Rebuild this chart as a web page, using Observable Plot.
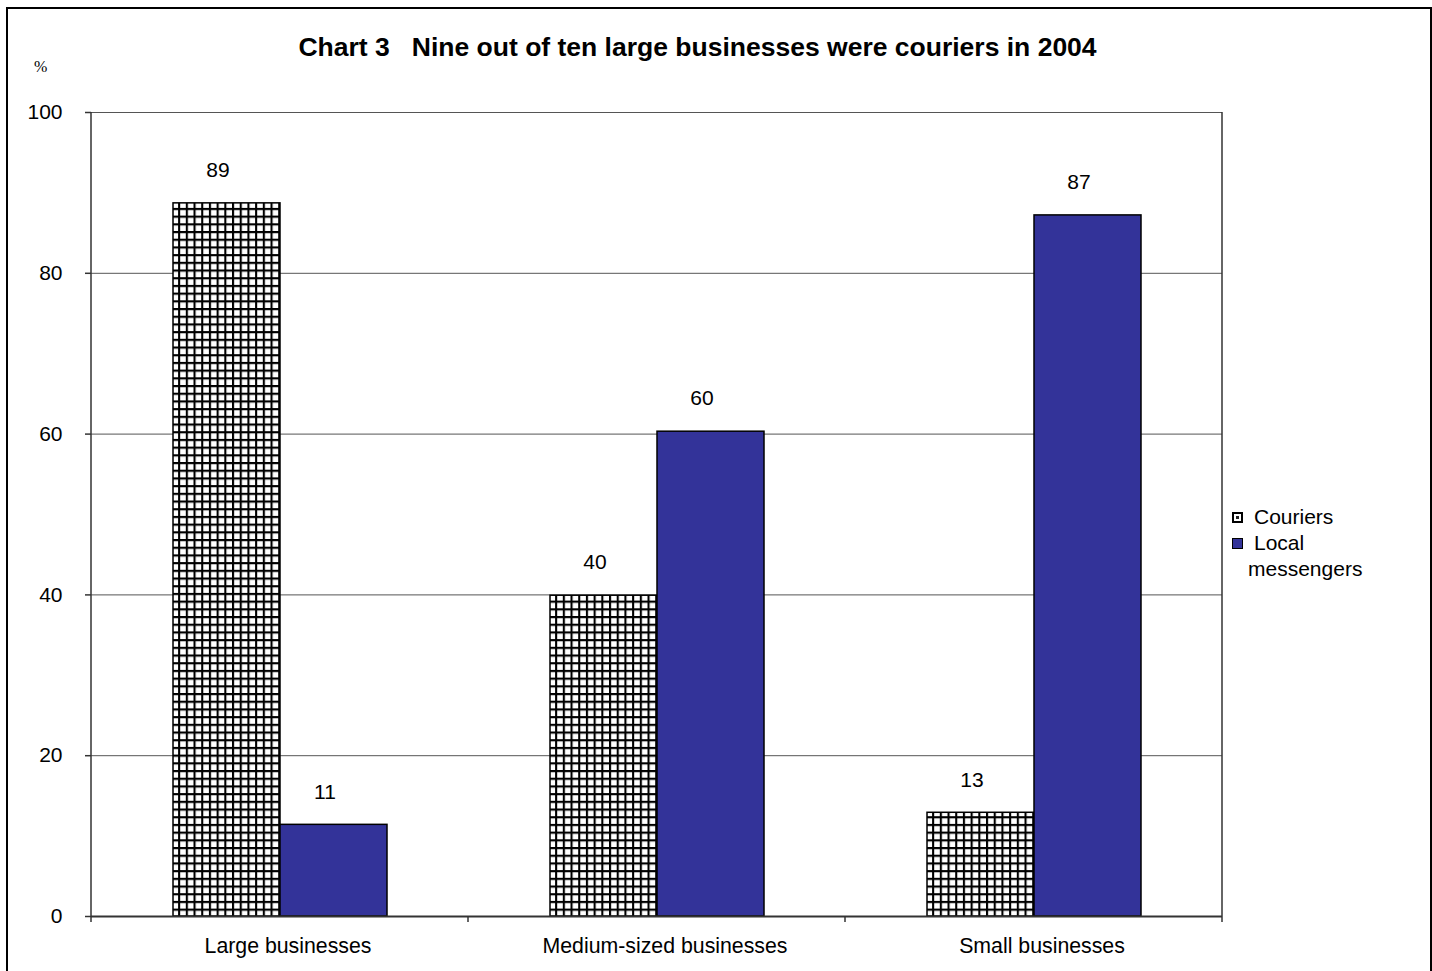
<!DOCTYPE html>
<html>
<head>
<meta charset="utf-8">
<script src="https://cdn.jsdelivr.net/npm/d3@7"></script>
<script src="https://cdn.jsdelivr.net/npm/@observablehq/plot@0.6"></script>
<style>
  html, body { margin: 0; padding: 0; background: #fff; }
  body { width: 1432px; height: 971px; position: relative; overflow: hidden; font-family: "Liberation Sans", Arial, sans-serif; }
  #border { position: absolute; left: 6px; top: 7px; width: 1422px; height: 980px; border: 2px solid #000; border-bottom: none; }
  #title { position: absolute; left: 0; width: 1395px; top: 32px; text-align: center; font-weight: bold; font-size: 26.5px; white-space: pre; }
  #unit { position: absolute; left: 34px; top: 58px; font-family: "Liberation Serif", "Times New Roman", serif; font-size: 16px; }
  #legend { position: absolute; left: 1232px; top: 504px; font-size: 21px; line-height: 26px; }
  .item { display: flex; align-items: flex-start; }
  .item svg { flex: none; margin-top: 8px; margin-right: 5px; }
  .item span { display: inline-block; width: 125px; text-indent: 6px; }
  #chart { position: absolute; left: 0; top: 0; }
</style>
</head>
<body>
<div id="border"></div>
<div id="chart"></div>
<div id="title">Chart 3   Nine out of ten large businesses were couriers in 2004</div>
<div id="unit">%</div>
<div id="legend"></div>
<script>
// ---- data ----
const categories = ["Large businesses", "Medium-sized businesses", "Small businesses"];
const seriesNames = ["Couriers", "Local messengers"];
const couriers = [88.7, 39.9, 12.9];
const localMessengers = [11.4, 60.3, 87.2];
const couriersLabels = ["89", "40", "13"];
const localLabels = ["11", "60", "87"];
const yTicks = [0, 20, 40, 60, 80, 100];
const yGrid = [20, 40, 60, 80, 100];

const data = [];
categories.forEach((c, i) => {
  data.push({category: c, series: seriesNames[0], value: couriers[i], label: couriersLabels[i]});
  data.push({category: c, series: seriesNames[1], value: localMessengers[i], label: localLabels[i]});
});

// outer plot-area sides and category boundary ticks, drawn once across all facets
const frameMark = Plot.frame({
  facet: "super",
  render(index, scales, values, dims) {
    const {marginLeft, marginRight, marginTop, marginBottom, width, height} = dims;
    const y = scales.y;
    const y0 = y ? y(0) : height - marginBottom;
    const y100 = y ? y(100) : marginTop;
    const fx = scales.fx;
    let xs;
    if (fx && fx.bandwidth) {
      xs = categories.map(c => fx(c));
      xs.push(xs[xs.length - 1] + fx.bandwidth());
    } else {
      const w = (width - marginLeft - marginRight) / categories.length;
      xs = d3.range(categories.length + 1).map(i => marginLeft + i * w);
    }
    const g = d3.create("svg:g");
    g.selectAll("line.tick").data(xs).join("line")
      .attr("x1", d => d).attr("x2", d => d)
      .attr("y1", y0).attr("y2", y0 + 6)
      .attr("stroke", "#333").attr("stroke-width", 1.5);
    g.selectAll("line.side").data([xs[0], xs[xs.length - 1]]).join("line")
      .attr("x1", d => d).attr("x2", d => d)
      .attr("y1", y100).attr("y2", y0)
      .attr("stroke", "#333").attr("stroke-width", 1.5);
    return g.node();
  }
});

const chart = Plot.plot({
  width: 1432,
  height: 971,
  marginLeft: 90,
  marginRight: 210,
  marginTop: 112,
  marginBottom: 55,
  style: {fontFamily: "'Liberation Sans', Arial, sans-serif", fontSize: "21px", color: "#000", background: "transparent", overflow: "visible"},
  fx: {domain: categories, padding: 0, label: null},
  x: {domain: seriesNames, paddingInner: 0, paddingOuter: 0.747, axis: null},
  y: {domain: [0, 100], label: null},
  color: {domain: seriesNames, range: ["url(#crosshatch)", "#333399"]},
  marks: [
    Plot.ruleY(yGrid, {stroke: "#555", strokeWidth: 1}),
    Plot.axisY({ticks: yTicks, tickSize: 6, tickPadding: 23, label: null, stroke: "#333", strokeWidth: 1.5, fontSize: 21}),
    Plot.axisFx({anchor: "bottom", tickSize: 0, tickPadding: 21, dx: 8, label: null, fontSize: 21.3}),
    Plot.barY(data, {fx: "category", x: "series", y: "value", fill: "series", stroke: "#000", strokeWidth: 1.5}),
    Plot.text(data, {fx: "category", x: "series", y: "value", text: "label", dy: -33, dx: -9, fontSize: 21, fill: "#000"}),
    Plot.ruleY([0], {stroke: "#333", strokeWidth: 2}),
    frameMark
  ]
});

// crosshatch pattern definition
const defs = d3.select(chart).insert("defs", ":first-child");
const pat = defs.append("pattern")
  .attr("id", "crosshatch")
  .attr("patternUnits", "userSpaceOnUse")
  .attr("width", 7.7).attr("height", 7.7);
pat.append("rect").attr("width", 7.7).attr("height", 7.7).attr("fill", "#fff");
pat.append("path").attr("d", "M0,1H7.7M1,0V7.7").attr("stroke", "#000").attr("stroke-width", 2.2);

document.getElementById("chart").appendChild(chart);

// legend
const legend = d3.select("#legend");
seriesNames.forEach((s, i) => {
  const item = legend.append("div").attr("class", "item");
  const sw = item.append("svg").attr("width", 11).attr("height", 11);
  if (i === 0) {
    sw.append("rect").attr("x", 0).attr("y", 0).attr("width", 11).attr("height", 11).attr("fill", "#000");
    sw.append("rect").attr("x", 2).attr("y", 2).attr("width", 7).attr("height", 7).attr("fill", "#fff");
    sw.append("rect").attr("x", 4).attr("y", 4).attr("width", 3).attr("height", 3).attr("fill", "#222");
  } else {
    sw.append("rect").attr("x", 0.5).attr("y", 0.5).attr("width", 10).attr("height", 10).attr("fill", "#333399").attr("stroke", "#000").attr("stroke-width", 1);
  }
  item.append("span").text(s);
});
</script>
</body>
</html>
